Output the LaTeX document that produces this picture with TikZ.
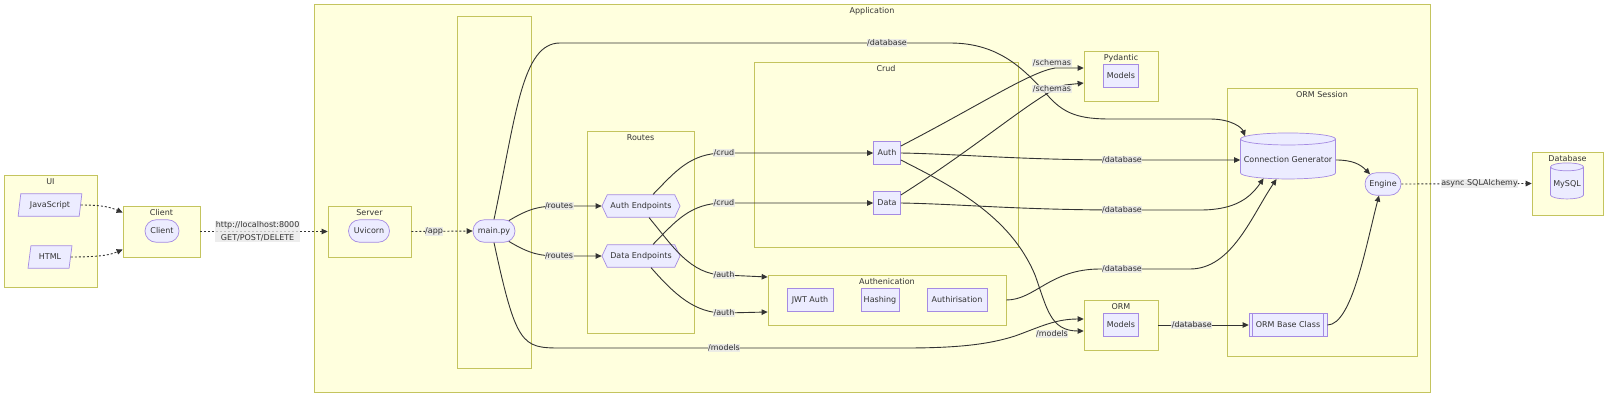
\documentclass[tikz,border=0pt]{standalone}
\usepackage{fontspec}
\setmainfont{DejaVu Sans}
\usetikzlibrary{arrows.meta,fit,shapes.geometric,shapes.misc,shapes.symbols}

\definecolor{clusterfill}{HTML}{FFFFDE}
\definecolor{clusterline}{HTML}{C4C45E}
\definecolor{nodefill}{HTML}{ECECFF}
\definecolor{nodeline}{HTML}{A58BE2}
\definecolor{inkcol}{HTML}{333333}
\definecolor{labelfill}{HTML}{E8E8E8}

\tikzset{
  >={Triangle[length=6pt,width=5.5pt]},
  cluster/.style={draw=clusterline,fill=clusterfill,line width=0.7pt,inner sep=0pt},
  cltitle/.style={text=inkcol,inner sep=0pt,text height=6pt,text depth=1.5pt},
  box/.style={draw=nodeline,fill=nodefill,line width=0.7pt,text=inkcol,inner xsep=2pt,inner ysep=0pt,
    minimum height=22.5pt,text height=6pt,text depth=1.5pt},
  stadium/.style={box,rounded rectangle},
  slanted/.style={box,trapezium,trapezium left angle=75,trapezium right angle=105,trapezium stretches=true},
  hexa/.style={box,signal,signal to=east and west,signal pointer angle=130},
  dbcyl/.style={box,cylinder,shape border rotate=90,aspect=0.25},
  link/.style={draw=inkcol,line width=0.9pt},
  dotline/.style={link,dash pattern=on 2pt off 2pt},
  lbase/.style={fill=labelfill,fill opacity=0.8,text opacity=1,text=inkcol,inner sep=0.5pt},
  elabel/.style={lbase,text height=6pt,text depth=1.5pt},
}

\begin{document}
\begin{tikzpicture}[x=1pt,y=-1pt,font=\fontsize{8pt}{9.6pt}\selectfont]
\useasboundingbox (0,0) rectangle (1608,410);

% subgraphs
\foreach \n/\xa/\ya/\xb/\yb/\t in {
  appc/314/4/1430/392/Application,
  uic/4/175/97/287/UI,
  clientc/123/206/200/257/Client,
  serverc/328/206/411/257/Server,
  routesc/587/131/694/333/Routes,
  crudc/754/62/1018/247/Crud,
  authnc/768/275/1006/325/Authenication,
  pydc/1084/51/1158/101/Pydantic,
  ormc/1084/300/1158/350/ORM,
  sessionc/1227/88/1417/356/ORM Session,
  dbc/1532/152/1603/215/Database}
{
  \node[cluster,fit={(\xa,\ya) (\xb,\yb)}] (\n) {};
  \node[cltitle] (t\n) at ([yshift=-8pt]\n.north) {\t};
}
\node[cluster,fit={(457,16) (531,368)}] (mainc) {};

% nodes
\node[slanted,minimum width=64pt] (js) at (50,205) {JavaScript};
\node[slanted,minimum width=44pt] (html) at (50,257) {HTML};
\node[stadium,minimum width=38pt] (client) at (162,231) {Client};
\node[stadium,minimum width=45pt] (uvicorn) at (369,231) {Uvicorn};
\node[stadium,minimum width=46pt] (mainpy) at (494,231) {main.py};
\node[hexa,minimum width=78pt] (authep) at (641,206) {Auth Endpoints};
\node[hexa,minimum width=78pt] (dataep) at (641,256) {Data Endpoints};
\node[box,minimum width=27pt] (crudauth) at (887,153) {Auth};
\node[box,minimum width=27pt] (cruddata) at (887,203) {Data};
\node[box,minimum width=46pt] (jwt) at (810,300) {JWT Auth};
\node[box,minimum width=38pt] (hashing) at (880,300) {Hashing};
\node[box,minimum width=60pt] (authz) at (957,300) {Authirisation};
\node[box,minimum width=35pt] (pydmodels) at (1121,76) {Models};
\node[box,minimum width=35pt] (ormmodels) at (1121,325) {Models};
\node[dbcyl,minimum width=95pt,minimum height=46pt,aspect=0.13] (conngen) at (1288,160) {Connection Generator};
\node[stadium,minimum width=40pt] (engine) at (1383,184) {Engine};
\node[box,minimum width=78pt] (ormbase) at (1288,325) {ORM Base Class};
\draw[draw=nodeline,line width=0.7pt] ([xshift=4pt]ormbase.north west) -- ([xshift=4pt]ormbase.south west)
  ([xshift=-4pt]ormbase.north east) -- ([xshift=-4pt]ormbase.south east);
\node[dbcyl,minimum width=33pt,minimum height=36pt] (mysql) at (1567,184) {MySQL};

% ui and client
\draw[dotline,->] (js.east) .. controls (105,205) and (112,208) .. ([yshift=19pt]clientc.west);
\draw[dotline,->] (html.east) .. controls (105,257) and (112,254) .. ([yshift=-18pt]clientc.west);
\draw[dotline,->] (clientc.east) -- node[lbase,pos=0.45,align=center,font=\fontsize{8pt}{13.5pt}\selectfont]
  {http://localhost:8000\\GET/POST/DELETE} (serverc.west);
\draw[dotline,->] (serverc.east) -- node[elabel,pos=0.37] {/app} (mainpy.west);

% main.py
\draw[link,->] (mainpy.35) .. controls (530,208) and (540,206) .. (559,206) node[elabel] {/routes} -- (authep.west);
\draw[link,->] (mainpy.-35) .. controls (530,254) and (540,256) .. (559,256) node[elabel] {/routes} -- (dataep.west);
\draw[link,->] (mainpy.north) .. controls (516,115) and (522,43) .. (560,43) -- (887,43) node[elabel] {/database}
  -- (950,43) .. controls (1000,43) and (1025,70) .. (1050,98) .. controls (1065,114) and (1080,119) .. (1110,119)
  -- (1210,119) .. controls (1232,119) and (1242,128) .. (conngen.151);
\draw[link,->] (mainpy.south) .. controls (516,345) and (522,348) .. (560,348) -- (724,348) node[elabel] {/models}
  -- (905,348) .. controls (960,348) and (990,344) .. (1015,336) .. controls (1040,327) and (1055,319) .. ([yshift=6pt]ormc.west);

% routes
\draw[link,->] ([xshift=12pt]authep.north) .. controls (675,172) and (690,153) .. (724,153) node[elabel] {/crud} -- (crudauth.west);
\draw[link,->] ([xshift=12pt]dataep.north) .. controls (675,222) and (690,203) .. (724,203) node[elabel] {/crud} -- (cruddata.west);
\draw[link,->] ([xshift=8pt]authep.south) .. controls (672,245) and (690,275) .. (724,275) node[elabel] {/auth} -- ([yshift=23pt]authnc.west);
\draw[link,->] ([xshift=10pt]dataep.south) .. controls (675,295) and (695,313) .. (724,313) node[elabel] {/auth} -- ([yshift=-12pt]authnc.west);

% crud
\draw[link,->] ([yshift=7pt]crudauth.east) .. controls (980,105) and (1030,72) .. (1055,68) -- ([yshift=8pt]pydc.west)
  node[elabel] at (1052,63) {/schemas};
\draw[link,->] ([yshift=8pt]cruddata.east) .. controls (980,145) and (1040,92) .. (1065,85) -- ([yshift=-7pt]pydc.west)
  node[elabel] at (1052,89) {/schemas};
\draw[link,->] (crudauth.east) .. controls (960,154) and (1020,160) .. (1122,160) node[elabel] {/database} -- (conngen.180);
\draw[link,->] (cruddata.east) .. controls (960,204) and (1020,210) .. (1122,210) node[elabel] {/database}
  -- (1200,210) .. controls (1235,210) and (1250,198) .. (conngen.217);
\draw[link,->] ([yshift=-7pt]crudauth.east) .. controls (950,185) and (1010,215) .. (1035,275)
  .. controls (1047,308) and (1050,331) .. ([yshift=-6pt]ormc.west) node[elabel] at (1052,334) {/models};

% authentication and orm
\draw[link,->] (authnc.east) .. controls (1035,300) and (1050,269) .. (1100,269) -- (1122,269) node[elabel] {/database}
  -- (1190,269) .. controls (1232,269) and (1252,215) .. (conngen.239);
\draw[link,->] (ormc.east) -- node[elabel,pos=0.37] {/database} (ormbase.west);
\draw[link,->] (ormbase.east) .. controls (1352,325) and (1366,245) .. ([xshift=-4pt]engine.south);
\draw[link,->] (conngen.0) .. controls (1352,160) and (1360,164) .. (engine.143);
\draw[dotline,->] (engine.east) -- node[elabel,pos=0.6] {async SQLAlchemy} (dbc.west);
\end{tikzpicture}
\end{document}
